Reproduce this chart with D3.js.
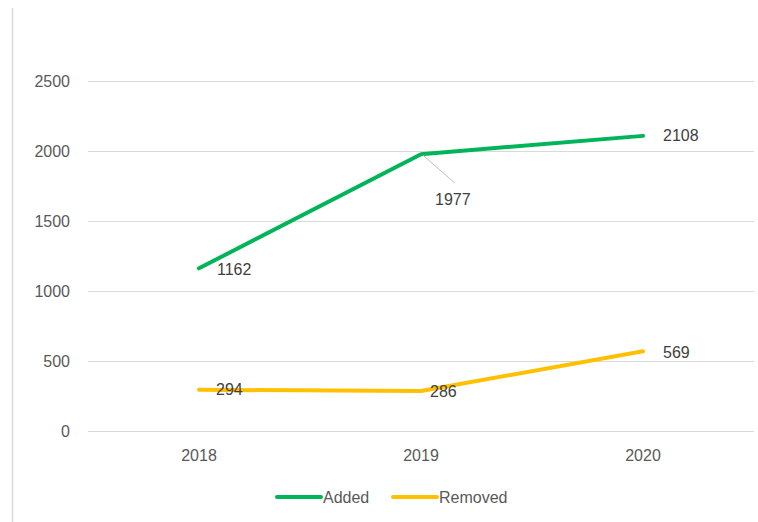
<!DOCTYPE html>
<html>
<head>
<meta charset="utf-8">
<script src="https://cdn.jsdelivr.net/npm/d3@7"></script>
<style>
  body { margin: 0; background: #fff; }
  text { font-family: "Liberation Sans", Arial, sans-serif; fill: #595959; }
</style>
</head>
<body>
<script>
var years = ["2018", "2019", "2020"];
var added = [1162, 1977, 2108];
var removed = [294, 286, 569];
var yTicks = [0, 500, 1000, 1500, 2000, 2500];

var width = 758, height = 522;
var green = "#00b559", yellow = "#ffc000", gridColor = "#d9d9d9";
var fontSize = "16px";

var svg = d3.select("body").append("svg")
    .attr("width", width)
    .attr("height", height);

// outer frame (only left edge visible)
svg.append("line")
    .attr("x1", 12.5).attr("x2", 12.5)
    .attr("y1", 8).attr("y2", height)
    .attr("stroke", gridColor).attr("stroke-width", 1.5);

var x = d3.scaleBand().domain(years).range([88, 754]);
var y = d3.scaleLinear().domain([0, 2500]).range([431, 81]);

// gridlines
svg.append("g").selectAll("line")
    .data(yTicks)
    .enter().append("line")
    .attr("x1", 88).attr("x2", 754)
    .attr("y1", function (d) { return Math.round(y(d)) + 0.5; })
    .attr("y2", function (d) { return Math.round(y(d)) + 0.5; })
    .attr("stroke", gridColor)
    .attr("stroke-width", 1);

// y labels
svg.append("g").selectAll("text")
    .data(yTicks)
    .enter().append("text")
    .attr("x", 70)
    .attr("y", function (d) { return y(d); })
    .attr("dy", "0.35em")
    .attr("text-anchor", "end")
    .style("font-size", fontSize)
    .text(function (d) { return d; });

// x labels
svg.append("g").selectAll("text")
    .data(years)
    .enter().append("text")
    .attr("x", function (d) { return x(d) + x.bandwidth() / 2; })
    .attr("y", 455)
    .attr("dy", "0.35em")
    .attr("text-anchor", "middle")
    .style("font-size", fontSize)
    .text(function (d) { return d; });

var cx = function (i) { return x(years[i]) + x.bandwidth() / 2; };

var line = d3.line()
    .x(function (d, i) { return cx(i); })
    .y(function (d) { return y(d); });

svg.append("path")
    .datum(added)
    .attr("d", line)
    .attr("fill", "none")
    .attr("stroke", green)
    .attr("stroke-width", 4)
    .attr("stroke-linecap", "round")
    .attr("stroke-linejoin", "round");

svg.append("path")
    .datum(removed)
    .attr("d", line)
    .attr("fill", "none")
    .attr("stroke", yellow)
    .attr("stroke-width", 4)
    .attr("stroke-linecap", "round")
    .attr("stroke-linejoin", "round");

// leader line for 1977 label
svg.append("line")
    .attr("x1", cx(1) + 2).attr("y1", y(added[1]) + 1)
    .attr("x2", cx(1) + 34).attr("y2", y(added[1]) + 29)
    .attr("stroke", "#bfbfbf").attr("stroke-width", 1);

// data labels: offsets relative to each point
var addedOffsets = [[18, 1], [14, 45], [20, 0]];
var removedOffsets = [[17, 0], [9, 0], [20, 1]];

function labels(series, offsets) {
    svg.append("g").selectAll("text")
        .data(series)
        .enter().append("text")
        .attr("x", function (d, i) { return cx(i) + offsets[i][0]; })
        .attr("y", function (d, i) { return y(d) + offsets[i][1]; })
        .attr("dy", "0.35em")
        .style("font-size", fontSize)
        .style("fill", "#404040")
        .text(function (d) { return d; });
}
labels(added, addedOffsets);
labels(removed, removedOffsets);

// legend
var legend = [{name: "Added", color: green, x: 277}, {name: "Removed", color: yellow, x: 393}];
var lg = svg.append("g").selectAll("g")
    .data(legend)
    .enter().append("g")
    .attr("transform", function (d) { return "translate(" + d.x + ",497)"; });
lg.append("line")
    .attr("x1", 0).attr("x2", 44)
    .attr("stroke", function (d) { return d.color; })
    .attr("stroke-width", 4)
    .attr("stroke-linecap", "round");
lg.append("text")
    .attr("x", 46)
    .attr("dy", "0.35em")
    .style("font-size", fontSize)
    .text(function (d) { return d.name; });
</script>
</body>
</html>
